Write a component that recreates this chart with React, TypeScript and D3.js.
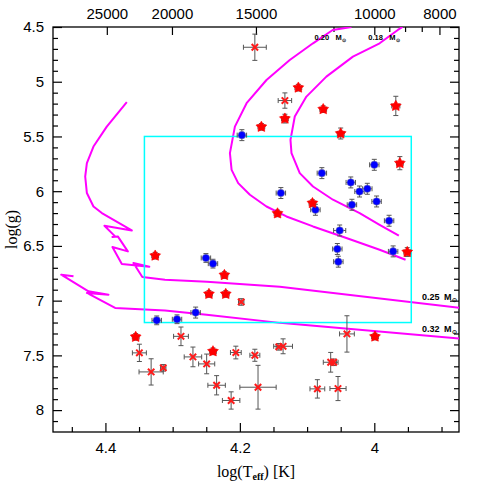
import * as d3 from "d3";
import React from "react";

// axis ticks
const topTemps = [25000, 20000, 15000, 10000, 8000];
const topMinorTemps = [11500, 9500, 9000, 8500];
const loggTicks = [4.5, 5, 5.5, 6, 6.5, 7, 7.5, 8];
const teffTicks = [4.4, 4.2, 4.0];

// [logTeff, logg, errTeff, errLogg]
const redStars = [
  [4.113, 5.054, 0.005, 0.03],
  [4.076, 5.251, 0.005, 0.03],
  [3.968, 5.221, 0.006, 0.088],
  [4.168, 5.412, 0.005, 0.03],
  [4.133, 5.337, 0.005, 0.04],
  [4.05, 5.473, 0.005, 0.05],
  [3.962, 5.744, 0.005, 0.06],
  [4.092, 6.109, 0.005, 0.03],
  [4.144, 6.203, 0.005, 0.03],
  [3.951, 6.556, 0.005, 0.04],
  [4.223, 6.766, 0.005, 0.03],
  [4.326, 6.589, 0.005, 0.03],
  [4.246, 6.939, 0.005, 0.03],
  [4.221, 6.939, 0.005, 0.03],
  [4.355, 7.331, 0.005, 0.03],
  [4.24, 7.463, 0.005, 0.03],
  [3.999, 7.328, 0.005, 0.03],
];

const bluePoints = [
  [4.197, 5.488, 0.007, 0.05],
  [4.0, 5.759, 0.007, 0.05],
  [4.078, 5.835, 0.007, 0.05],
  [4.035, 5.92, 0.007, 0.05],
  [4.022, 6.003, 0.007, 0.05],
  [4.0104, 5.978, 0.007, 0.05],
  [4.139, 6.017, 0.007, 0.05],
  [3.9966, 6.094, 0.007, 0.05],
  [4.0333, 6.124, 0.007, 0.05],
  [4.0876, 6.17, 0.007, 0.05],
  [3.978, 6.27, 0.007, 0.05],
  [4.0515, 6.359, 0.009, 0.05],
  [4.055, 6.528, 0.007, 0.05],
  [3.972, 6.55, 0.007, 0.05],
  [4.0535, 6.644, 0.007, 0.05],
  [4.2505, 6.61, 0.007, 0.04],
  [4.24, 6.662, 0.007, 0.04],
  [4.2658, 7.109, 0.007, 0.05],
  [4.3237, 7.18, 0.007, 0.04],
  [4.2935, 7.17, 0.007, 0.04],
];

const redCrosses = [
  [4.1777, 4.685, 0.017, 0.12],
  [4.133, 5.172, 0.01, 0.07],
  [4.198, 7.012, 0.004, 0.03],
  [4.2876, 7.326, 0.011, 0.085],
  [4.3495, 7.477, 0.0104, 0.079],
  [4.332, 7.651, 0.018, 0.12],
  [4.314, 7.614, 0.004, 0.03],
  [4.2698, 7.514, 0.013, 0.09],
  [4.2494, 7.578, 0.012, 0.09],
  [4.2346, 7.773, 0.013, 0.088],
  [4.213, 7.912, 0.013, 0.079],
  [4.206, 7.474, 0.008, 0.058],
  [4.1777, 7.499, 0.0074, 0.055],
  [4.173, 7.791, 0.027, 0.2],
  [4.142, 7.422, 0.004, 0.03],
  [4.1357, 7.417, 0.014, 0.068],
  [4.0649, 7.563, 0.011, 0.09],
  [4.0604, 7.563, 0.004, 0.03],
  [4.0407, 7.304, 0.011, 0.166],
  [4.0847, 7.806, 0.011, 0.084],
  [4.054, 7.803, 0.012, 0.11],
];

// evolutionary tracks [logTeff, logg]
const track020 = [
  [4.034, 4.5], [4.0619, 4.527], [4.0912, 4.649], [4.1258, 4.801], [4.1604, 4.984],
  [4.19, 5.196], [4.2074, 5.41], [4.2148, 5.652], [4.2123, 5.805], [4.2025, 5.926],
  [4.1851, 6.033], [4.1604, 6.14], [4.1307, 6.231], [4.0912, 6.322], [4.0416, 6.428],
  [3.9921, 6.535], [3.9535, 6.626],
];
const track018 = [
  [3.958, 4.5], [3.965, 4.527], [3.9921, 4.649], [4.0318, 4.771], [4.0713, 4.953],
  [4.101, 5.136], [4.1183, 5.318], [4.1247, 5.531], [4.1232, 5.652], [4.1109, 5.835],
  [4.0912, 5.957], [4.0615, 6.078], [4.0218, 6.2], [3.9921, 6.307], [3.9635, 6.407],
];
const track025 = [
  [4.3682, 5.187], [4.398, 5.41], [4.4178, 5.592], [4.4276, 5.744], [4.4301, 5.866],
  [4.4276, 6.017], [4.4178, 6.14], [4.4053, 6.2], [4.3608, 6.359], [4.4015, 6.316],
  [4.3856, 6.413], [4.3896, 6.419], [4.3816, 6.413], [4.3667, 6.55], [4.3896, 6.51],
  [4.3756, 6.665], [4.3347, 6.69], [4.3584, 6.656], [4.3451, 6.784], [4.3114, 6.808],
  [4.249, 6.827], [4.1406, 6.872], [3.87, 7.067],
];
const track032 = [
  [4.4475, 6.778], [4.4658, 6.763], [4.4252, 6.915], [4.3955, 6.945], [4.4276, 6.93],
  [4.3856, 7.067], [4.3114, 7.089], [4.2494, 7.128], [4.1406, 7.203], [3.87, 7.347],
];

const boxTeff = [4.342, 3.945];
const boxLogg = [5.5, 7.2];

// track labels: [text, logTeff, logg, font size, gap before M]
const trackLabels = [
  ["0.20", 4.089, 4.615, 7.5, 6.5],
  ["0.18", 4.009, 4.615, 7.5, 6.5],
  ["0.25", 3.929, 6.995, 9, 4.5],
  ["0.32", 3.929, 7.285, 9, 4.5],
];

const App = () => {
  const ref = React.useRef(null);

  React.useEffect(() => {
    const svg = d3.select(ref.current);
    svg.selectAll("*").remove();

    const left = 53, right = 459, top = 27, bottom = 432;
    const x = d3.scaleLinear().domain([4.478, 3.874]).range([left, right]);
    const y = d3.scaleLinear().domain([4.5, 8.2]).range([top, bottom]);

    svg.append("rect").attr("width", 485).attr("height", 485).attr("fill", "white");

    svg.append("defs").append("clipPath").attr("id", "plotclip")
      .append("rect")
      .attr("x", left).attr("y", top)
      .attr("width", right - left).attr("height", bottom - top);

    const tickFont = "'Liberation Sans', Arial, sans-serif";

    // axes with inward ticks
    const styleAxis = (g) => {
      g.select(".domain").remove();
      g.selectAll(".tick line").attr("stroke", "#000").attr("stroke-width", 1.2);
      g.selectAll("text").attr("font-family", tickFont).attr("font-size", 15).attr("fill", "#000");
    };

    const minorX = d3.range(4.45, 3.87, -0.05).filter((v) => Math.abs(v * 5 - Math.round(v * 5)) > 1e-6);
    const minorY = d3.range(4.6, 8.2, 0.1).filter((v) => Math.abs(v * 2 - Math.round(v * 2)) > 1e-6);

    svg.append("g").attr("transform", `translate(0,${bottom})`)
      .call(d3.axisBottom(x).tickValues(teffTicks).tickSize(-9).tickPadding(10).tickFormat((d) => String(d)))
      .call(styleAxis);
    svg.append("g").attr("transform", `translate(0,${bottom})`)
      .call(d3.axisBottom(x).tickValues(minorX).tickSize(-5).tickFormat(() => ""))
      .call(styleAxis);

    svg.append("g").attr("transform", `translate(${left},0)`)
      .call(d3.axisLeft(y).tickValues(loggTicks).tickSize(-9).tickPadding(9).tickFormat((d) => String(d)))
      .call(styleAxis);
    svg.append("g").attr("transform", `translate(${left},0)`)
      .call(d3.axisLeft(y).tickValues(minorY).tickSize(-5).tickFormat(() => ""))
      .call(styleAxis);

    svg.append("g").attr("transform", `translate(${right},0)`)
      .call(d3.axisRight(y).tickValues(loggTicks).tickSize(-9).tickFormat(() => ""))
      .call(styleAxis);
    svg.append("g").attr("transform", `translate(${right},0)`)
      .call(d3.axisRight(y).tickValues(minorY).tickSize(-5).tickFormat(() => ""))
      .call(styleAxis);

    svg.append("g").attr("transform", `translate(0,${top})`)
      .call(d3.axisTop(x).tickValues(topTemps.map((t) => Math.log10(t))).tickSize(-8).tickPadding(8)
        .tickFormat((d, i) => String(topTemps[i])))
      .call(styleAxis);
    svg.append("g").attr("transform", `translate(0,${top})`)
      .call(d3.axisTop(x).tickValues(topMinorTemps.map((t) => Math.log10(t))).tickSize(-5).tickFormat(() => ""))
      .call(styleAxis);

    // frame
    svg.append("rect")
      .attr("x", left).attr("y", top)
      .attr("width", right - left).attr("height", bottom - top)
      .attr("fill", "none").attr("stroke", "#000").attr("stroke-width", 1.3);

    // axis titles
    const xt = svg.append("text")
      .attr("x", (left + right) / 2).attr("y", 477)
      .attr("text-anchor", "middle")
      .attr("font-family", "'Liberation Serif', 'Times New Roman', serif")
      .attr("font-size", 16);
    xt.append("tspan").text("log(T");
    xt.append("tspan").attr("font-size", 10).attr("dy", 3).attr("font-weight", "bold").text("eff");
    xt.append("tspan").attr("dy", -3).text(") [K]");

    svg.append("text")
      .attr("transform", `translate(17,${(top + bottom) / 2}) rotate(-90)`)
      .attr("text-anchor", "middle")
      .attr("font-family", "'Liberation Serif', 'Times New Roman', serif")
      .attr("font-size", 16)
      .text("log(g)");

    // tracks
    const line = d3.line().x((d) => x(d[0])).y((d) => y(d[1]));
    const plot = svg.append("g").attr("clip-path", "url(#plotclip)");
    plot.selectAll("path.track")
      .data([track020, track018, track025, track032])
      .enter()
      .append("path")
      .attr("class", "track")
      .attr("d", line)
      .attr("fill", "none")
      .attr("stroke", "#ff00ff")
      .attr("stroke-width", 2)
      .attr("stroke-linejoin", "round");

    // box
    plot.append("rect")
      .attr("x", x(boxTeff[0])).attr("y", y(boxLogg[0]))
      .attr("width", x(boxTeff[1]) - x(boxTeff[0]))
      .attr("height", y(boxLogg[1]) - y(boxLogg[0]))
      .attr("fill", "none")
      .attr("stroke", "#00ffff")
      .attr("stroke-width", 1.5);

    // track labels
    trackLabels.forEach((lb) => {
      const t = svg.append("text")
        .attr("x", x(lb[1])).attr("y", y(lb[2]))
        .attr("font-family", tickFont)
        .attr("font-size", lb[3])
        .attr("font-weight", "bold")
        .attr("fill", "#000");
      t.append("tspan").text(lb[0]);
      t.append("tspan").attr("dx", lb[4]).text("M");
      t.append("tspan").attr("font-size", lb[3] * 0.65).attr("dy", 2).text("\u2299");
    });

    // error bars
    const errorBars = (data) => {
      const g = plot.append("g").attr("stroke", "#555").attr("stroke-width", 1).attr("fill", "none");
      data.forEach((d) => {
        const cx = x(d[0]), cy = y(d[1]);
        const x1 = x(d[0] + d[2]), x2 = x(d[0] - d[2]);
        const y1 = y(d[1] - d[3]), y2 = y(d[1] + d[3]);
        g.append("line").attr("x1", x1).attr("x2", x2).attr("y1", cy).attr("y2", cy);
        g.append("line").attr("x1", cx).attr("x2", cx).attr("y1", y1).attr("y2", y2);
        g.append("line").attr("x1", x1).attr("x2", x1).attr("y1", cy - 2.5).attr("y2", cy + 2.5);
        g.append("line").attr("x1", x2).attr("x2", x2).attr("y1", cy - 2.5).attr("y2", cy + 2.5);
        g.append("line").attr("x1", cx - 2.5).attr("x2", cx + 2.5).attr("y1", y1).attr("y2", y1);
        g.append("line").attr("x1", cx - 2.5).attr("x2", cx + 2.5).attr("y1", y2).attr("y2", y2);
      });
    };

    errorBars(redCrosses);
    errorBars(bluePoints);
    errorBars(redStars);

    // red crosses
    plot.selectAll("path.cross")
      .data(redCrosses)
      .enter()
      .append("path")
      .attr("class", "cross")
      .attr("transform", (d) => `translate(${x(d[0])},${y(d[1])})`)
      .attr("d", "M-3.2,-3.2L3.2,3.2M-3.2,3.2L3.2,-3.2")
      .attr("fill", "none")
      .attr("stroke", "#ff1a1a")
      .attr("stroke-width", 2);

    // blue points
    plot.selectAll("circle.blue")
      .data(bluePoints)
      .enter()
      .append("circle")
      .attr("class", "blue")
      .attr("cx", (d) => x(d[0]))
      .attr("cy", (d) => y(d[1]))
      .attr("r", 3.8)
      .attr("fill", "#0000ff")
      .attr("stroke", "#999")
      .attr("stroke-width", 0.5);

    // red stars: chunky five-point star
    const starPts = d3.range(10).map((i) => [(i * Math.PI) / 5, i % 2 === 0 ? 5.7 : 3.1]);
    const starPath = d3.lineRadial().curve(d3.curveLinearClosed)(starPts);
    plot.selectAll("path.star")
      .data(redStars)
      .enter()
      .append("path")
      .attr("class", "star")
      .attr("transform", (d) => `translate(${x(d[0])},${y(d[1])})`)
      .attr("d", starPath)
      .attr("fill", "#ff0000")
      .attr("stroke", "#ff0000")
      .attr("stroke-width", 0.6);
  }, []);

  return (
    <div style={{ position: "absolute", left: 0, top: 0 }}>
      <svg ref={ref} width={485} height={485} style={{ display: "block" }} />
    </div>
  );
};

export default App;
